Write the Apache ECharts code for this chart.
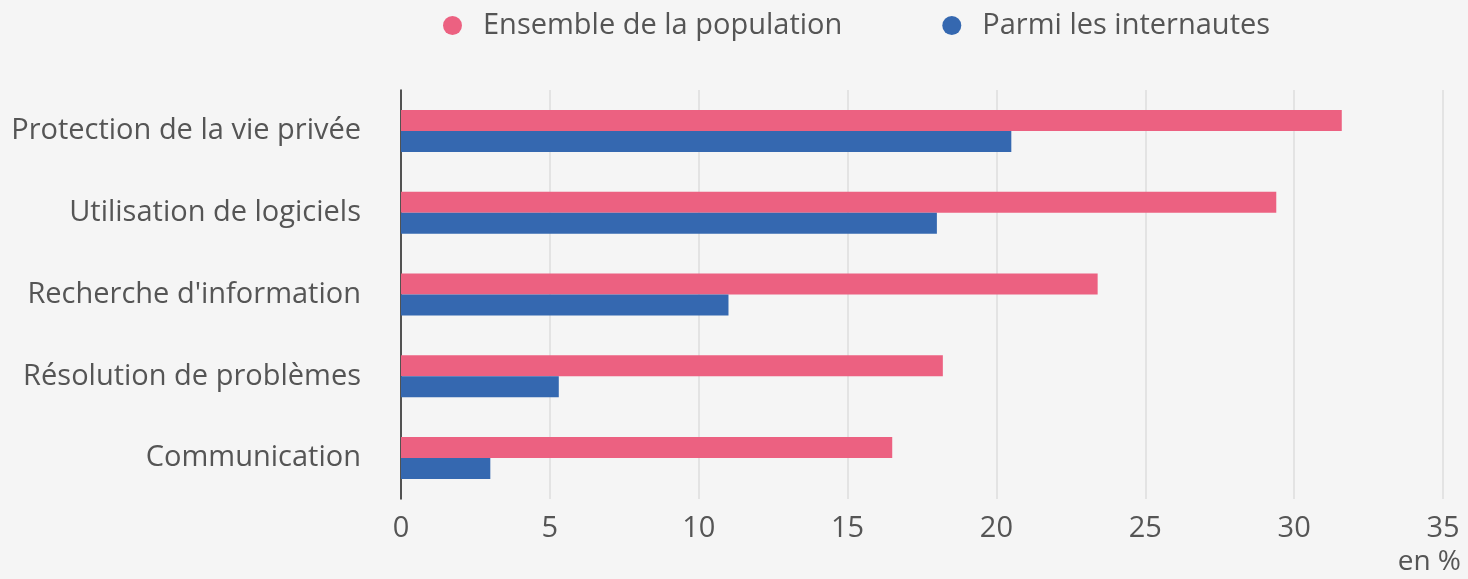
<!DOCTYPE html>
<html lang="fr">
<head>
  <meta charset="UTF-8">
  <title>Compétences numériques</title>
  <script src="https://cdn.jsdelivr.net/npm/echarts@6/dist/echarts.min.js"></script>
  <style>
    html, body { margin: 0; padding: 0; background: #f5f5f5; }
    #chart { width: 1468px; height: 579px; }
  </style>
</head>
<body>
  <div id="chart"></div>
  <script>
    // categories, top to bottom
    const categories = [
      'Protection de la vie privée',
      'Utilisation de logiciels',
      "Recherche d'information",
      'Résolution de problèmes',
      'Communication'
    ];
    const population = [31.6, 29.4, 23.4, 18.2, 16.5];
    const internautes = [20.5, 18.0, 11.0, 5.3, 3.0];
    const seriesNames = ['Ensemble de la population', 'Parmi les internautes'];

    const font = '"Open Sans", sans-serif';
    const textColor = '#555';

    const chart = echarts.init(document.getElementById('chart'));

    chart.setOption({
      backgroundColor: '#f5f5f5',
      animation: false,
      textStyle: { fontFamily: font },
      title: {
        text: 'en %',
        right: 2,
        bottom: -2,
        textStyle: { fontFamily: font, fontSize: 28, fontWeight: 'normal', color: textColor }
      },
      legend: {
        top: 6,
        left: 438,
        itemGap: 100,
        itemWidth: 19,
        itemHeight: 19,
        icon: 'circle',
        textStyle: { fontFamily: font, fontSize: 29, color: textColor, padding: [0, 0, 0, 16] },
        data: seriesNames
      },
      grid: { left: 401, right: 25, top: 90, bottom: 80, containLabel: false },
      xAxis: {
        type: 'value',
        min: 0,
        max: 35,
        interval: 5,
        axisLine: { show: false },
        axisTick: { show: false },
        splitLine: { lineStyle: { color: '#dcdcdc', width: 1.5 } },
        axisLabel: { fontFamily: font, fontSize: 29, color: textColor, margin: 15 }
      },
      yAxis: {
        type: 'category',
        inverse: true,
        data: categories,
        axisLine: { show: true, lineStyle: { color: '#222', width: 1.5 } },
        axisTick: { show: false },
        axisLabel: { fontFamily: font, fontSize: 29, color: textColor, margin: 40 }
      },
      series: [
        {
          name: seriesNames[0],
          type: 'bar',
          data: population,
          barWidth: 21,
          barGap: '0%',
          itemStyle: { color: '#ec6181' },
          z: 1
        },
        {
          name: seriesNames[1],
          type: 'bar',
          data: internautes,
          barWidth: 21,
          itemStyle: { color: '#3568b0' },
          z: 1
        }
      ]
    });
  </script>
</body>
</html>
